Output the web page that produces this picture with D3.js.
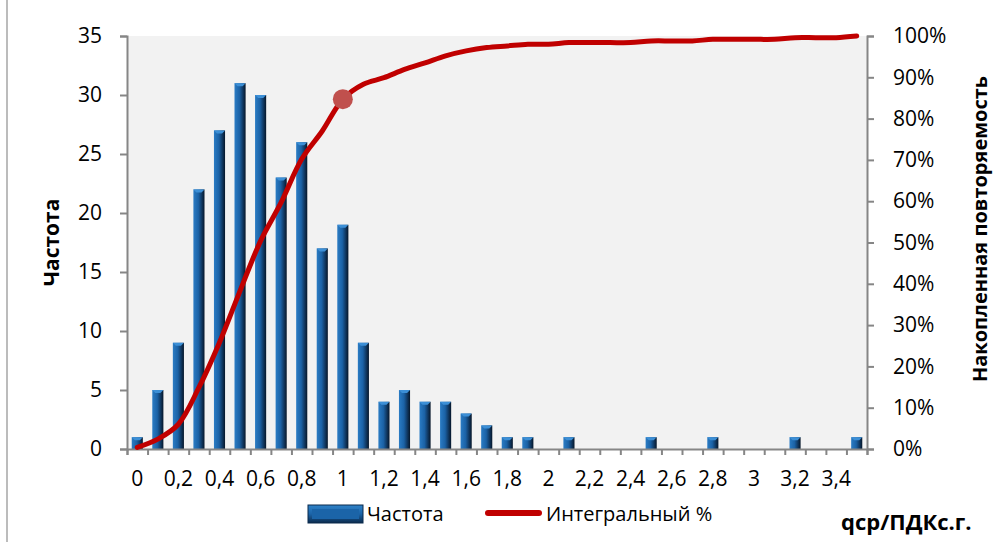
<!DOCTYPE html>
<html>
<head>
<meta charset="utf-8">
<script src="https://cdn.jsdelivr.net/npm/d3@7"></script>
<style>
  body { margin: 0; background: #fff; }
  svg text { font-family: "Open Sans", sans-serif; fill: #000; }
</style>
</head>
<body>
<svg id="chart" width="1005" height="542"></svg>
<script>
// categories (qcp/ПДКс.г.)
const categories = [0, 0.1, 0.2, 0.3, 0.4, 0.5, 0.6, 0.7, 0.8, 0.9, 1.0, 1.1, 1.2, 1.3, 1.4, 1.5, 1.6, 1.7,
    1.8, 1.9, 2.0, 2.1, 2.2, 2.3, 2.4, 2.5, 2.6, 2.7, 2.8, 2.9, 3.0, 3.1, 3.2, 3.3, 3.4, 3.5]
// Частота
const frequency = [1, 5, 9, 22, 27, 31, 30, 23, 26, 17, 19, 9, 4, 5, 4, 4, 3, 2,
    1, 1, 0, 1, 0, 0, 0, 1, 0, 0, 1, 0, 0, 0, 1, 0, 0, 1]
// Интегральный %
const cumulative = [0.4, 2.4, 6.0, 14.9, 25.8, 38.3, 50.4, 59.7, 70.2, 77.0, 84.7, 88.3, 89.9, 91.9, 93.5, 95.2, 96.4, 97.2,
    97.6, 98.0, 98.0, 98.4, 98.4, 98.4, 98.4, 98.8, 98.8, 98.8, 99.2, 99.2, 99.2, 99.2, 99.6, 99.6, 99.6, 100]
const freqTicks = [0, 5, 10, 15, 20, 25, 30, 35]
const pctTicks = [0, 10, 20, 30, 40, 50, 60, 70, 80, 90, 100]
const highlight = 1.0

let svg = d3.select("#chart")
let plotL = 127, plotR = 867, plotT = 36, plotB = 449
let axisColor = "#868686"

let defs = svg.append("defs")
let grad = defs.append("linearGradient").attr("id", "barGrad")
    .attr("x1", 0).attr("x2", 1).attr("y1", 0).attr("y2", 0)
grad.selectAll("stop").data([
    ["0%", "#2b7cc4"], ["45%", "#1b62a6"], ["70%", "#123f6d"], ["100%", "#061629"]
]).enter().append("stop").attr("offset", d => d[0]).attr("stop-color", d => d[1])

let legGrad = defs.append("linearGradient").attr("id", "legGrad")
    .attr("x1", 0).attr("x2", 0).attr("y1", 0).attr("y2", 1)
legGrad.selectAll("stop").data([
    ["0%", "#2f82c8"], ["50%", "#1b64a8"], ["100%", "#0b2a4c"]
]).enter().append("stop").attr("offset", d => d[0]).attr("stop-color", d => d[1])

// chart border on the left
svg.append("line").attr("x1", 7).attr("x2", 7).attr("y1", 0).attr("y2", 542)
    .style("stroke", "#a6a6a6").style("stroke-width", 1.5)

// plot background
svg.append("rect").attr("x", plotL).attr("y", plotT)
    .attr("width", plotR - plotL).attr("height", plotB - plotT).style("fill", "#f2f2f2")

let pad = 0.46
let x = d3.scaleBand().domain(categories).range([plotL, plotR])
    .paddingInner(pad).paddingOuter(pad / 2)
let xEdge = d3.scaleLinear().domain([0, categories.length]).range([plotL, plotR])
let y = d3.scaleLinear().domain([0, 35]).range([plotB, plotT])
let y2 = d3.scaleLinear().domain([0, 100]).range([plotB, plotT])

// bars
let bars = svg.append("g").selectAll("g").data(categories.map((c, i) => ({c: c, v: frequency[i]})).filter(d => d.v > 0))
    .enter().append("g")
bars.append("rect")
    .attr("x", d => x(d.c)).attr("y", d => y(d.v))
    .attr("width", x.bandwidth()).attr("height", d => y(0) - y(d.v))
    .style("fill", "url(#barGrad)")
bars.append("path")
    .attr("d", d => {
        let x0 = x(d.c), x1 = x0 + x.bandwidth(), y0 = y(d.v)
        return "M" + x0 + "," + y0 + "L" + x1 + "," + y0 + "L" + (x1 - 3) + "," + (y0 + 3) + "L" + (x0 + 3) + "," + (y0 + 3) + "Z"
    })
    .style("fill", "#3c8fd6")

// axes
let gx = svg.append("g").attr("transform", "translate(0," + plotB + ")")
    .call(d3.axisBottom(xEdge).tickValues(d3.range(categories.length + 1)).tickSize(6).tickFormat(""))
let gxl = svg.append("g").attr("transform", "translate(0," + plotB + ")")
    .call(d3.axisBottom(x).tickValues(categories.filter((c, i) => i % 2 == 0))
        .tickSize(0).tickPadding(22)
        .tickFormat(d => String(+d.toFixed(1)).replace(".", ",")))
gxl.select(".domain").remove()

let gy = svg.append("g").attr("transform", "translate(" + plotL + ",0)")
    .call(d3.axisLeft(y).tickValues(freqTicks).tickSize(7).tickPadding(18))
let gy2 = svg.append("g").attr("transform", "translate(" + plotR + ",0)")
    .call(d3.axisRight(y2).tickValues(pctTicks).tickSize(7).tickPadding(19).tickFormat(d => d + "%"))

svg.selectAll(".domain, .tick line").style("stroke", axisColor).style("stroke-width", 2)
svg.selectAll(".tick text").style("font-family", "'Open Sans', sans-serif").style("font-size", "21px").style("fill", "#000")

// cumulative line
let line = d3.line()
    .x((d, i) => x(categories[i]) + x.bandwidth() / 2)
    .y(d => y2(d))
    .curve(d3.curveCatmullRom.alpha(0.5))
svg.append("path").datum(cumulative).attr("d", line)
    .style("fill", "none").style("stroke", "#c00000").style("stroke-width", 5)
    .style("stroke-linecap", "round").style("stroke-linejoin", "round")

let hi = categories.indexOf(highlight)
svg.append("circle")
    .attr("cx", x(categories[hi]) + x.bandwidth() / 2).attr("cy", y2(cumulative[hi]))
    .attr("r", 10).style("fill", "#c0504d")

// axis titles
svg.append("text").attr("transform", "translate(52," + ((plotT + plotB) / 2) + ")rotate(-90)")
    .attr("text-anchor", "middle").attr("dy", "0.35em")
    .style("font-size", "21px").style("font-weight", "bold").text("Частота")
svg.append("text").attr("transform", "translate(980,229)rotate(-90)")
    .attr("text-anchor", "middle").attr("dy", "0.35em")
    .style("font-size", "20px").style("font-weight", "bold").text("Накопленная повторяемость")
svg.append("text").attr("x", 841).attr("y", 522).attr("dy", "0.35em")
    .style("font-size", "22px").style("font-weight", "bold").text("qcp/ПДКс.г.")

// legend
let legend = svg.append("g")
legend.append("rect").attr("x", 308).attr("y", 505).attr("width", 55).attr("height", 18)
    .style("fill", "url(#legGrad)").style("stroke", "#0b2a4c").style("stroke-width", 1)
legend.append("rect").attr("x", 312).attr("y", 509).attr("width", 47).attr("height", 10)
    .style("fill", "#1b64a8")
legend.append("text").attr("x", 367).attr("y", 514).attr("dy", "0.35em")
    .style("font-size", "20px").text("Частота")
legend.append("line").attr("x1", 488).attr("x2", 539).attr("y1", 513).attr("y2", 513)
    .style("stroke", "#c00000").style("stroke-width", 6).style("stroke-linecap", "round")
legend.append("text").attr("x", 546).attr("y", 514).attr("dy", "0.35em")
    .style("font-size", "20px").text("Интегральный %")
</script>
</body>
</html>
